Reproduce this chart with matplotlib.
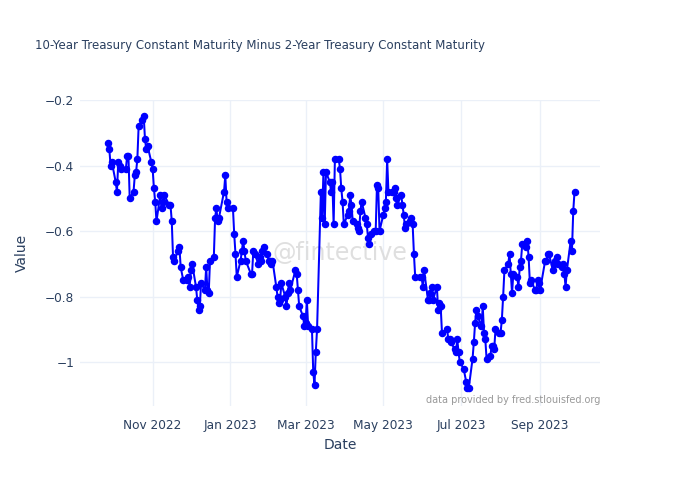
import matplotlib
matplotlib.use("Agg")
import matplotlib.pyplot as plt
import matplotlib.dates as mdates
import matplotlib.ticker as mticker
import pandas as pd

# Dados: spread 10 anos - 2 anos (dias úteis, mercado de títulos dos EUA)
inicio = "2022-09-27"
fim = "2023-09-28"
feriados = ["2022-10-10", "2022-11-11", "2022-11-24", "2022-12-26", "2023-01-02",
            "2023-01-16", "2023-02-20", "2023-05-29", "2023-06-19", "2023-07-04",
            "2023-09-04"]

valores = [
    -0.33, -0.35, -0.4, -0.39, -0.45, -0.48, -0.39, -0.4, -0.41, -0.41,
    -0.37, -0.37, -0.5, -0.48, -0.43, -0.42, -0.38, -0.28, -0.26, -0.25,
    -0.32, -0.35, -0.34, -0.39, -0.41, -0.47, -0.51, -0.57, -0.49, -0.53,
    -0.51, -0.49, -0.52, -0.52, -0.57, -0.68, -0.69, -0.66, -0.65, -0.71,
    -0.75, -0.75, -0.74, -0.77, -0.72, -0.7, -0.77, -0.81, -0.84, -0.83,
    -0.76, -0.78, -0.71, -0.78, -0.79, -0.69, -0.68, -0.56, -0.53, -0.57,
    -0.56, -0.48, -0.43, -0.51, -0.53, -0.53, -0.61, -0.67, -0.74, -0.69,
    -0.66, -0.63, -0.66, -0.69, -0.73, -0.73, -0.66, -0.67, -0.7, -0.68,
    -0.69, -0.66, -0.65, -0.67, -0.69, -0.69, -0.7, -0.69, -0.77, -0.8,
    -0.82, -0.81, -0.76, -0.8, -0.83, -0.79, -0.76, -0.78, -0.72, -0.73,
    -0.78, -0.83, -0.86, -0.89, -0.88, -0.81, -0.89, -0.9, -1.03, -1.07,
    -0.97, -0.9, -0.48, -0.56, -0.42, -0.58, -0.42, -0.45, -0.48, -0.45,
    -0.58, -0.38, -0.38, -0.41, -0.47, -0.51, -0.58, -0.55, -0.54, -0.49,
    -0.52, -0.57, -0.58, -0.59, -0.6, -0.54, -0.51, -0.56, -0.58, -0.62,
    -0.64, -0.61, -0.6, -0.6, -0.46, -0.47, -0.6, -0.55, -0.53, -0.51,
    -0.38, -0.48, -0.48, -0.48, -0.47, -0.5, -0.52, -0.49, -0.52, -0.55,
    -0.59, -0.58, -0.57, -0.56, -0.58, -0.67, -0.74, -0.74, -0.74, -0.77,
    -0.72, -0.81, -0.81, -0.79, -0.77, -0.81, -0.77, -0.84, -0.82, -0.83,
    -0.91, -0.9, -0.93, -0.93, -0.94, -0.96, -0.97, -0.93, -0.97, -1.0,
    -1.02, -1.06, -1.08, -1.08, -0.99, -0.94, -0.88, -0.84, -0.86, -0.89,
    -0.83, -0.91, -0.93, -0.99, -0.98, -0.95, -0.95, -0.96, -0.9, -0.91,
    -0.91, -0.87, -0.8, -0.72, -0.7, -0.67, -0.73, -0.79, -0.73, -0.74,
    -0.77, -0.71, -0.69, -0.64, -0.65, -0.63, -0.68, -0.76, -0.75, -0.78,
    -0.78, -0.75, -0.76, -0.78, -0.69, -0.69, -0.67, -0.67, -0.72, -0.7,
    -0.69, -0.68, -0.7, -0.71, -0.7, -0.73, -0.77, -0.72, -0.63, -0.66,
    -0.54, -0.48,
]

datas = pd.bdate_range(inicio, fim, freq="C", holidays=feriados)
serie = pd.Series(valores, index=datas[:len(valores)])

cor_texto = "#2a3f5f"
cor_grade = "#EBF0F8"

fig = plt.figure(figsize=(6.8, 4.86), dpi=100)
ax = fig.add_axes([80 / 680, 80 / 486, 520 / 680, 306 / 486])

ax.plot(serie.index, serie.values, color="blue", linewidth=1.45,
        marker="o", markersize=4.4, zorder=3)

# Eixos e formatação (estilo plotly_white)
ax.set_xlim(pd.Timestamp("2022-09-05"), pd.Timestamp("2023-10-18"))
ax.set_ylim(-1.134, -0.2)
ax.xaxis.set_major_locator(mdates.MonthLocator(bymonth=[1, 3, 5, 7, 9, 11]))
ax.xaxis.set_major_formatter(mdates.DateFormatter("%b %Y"))
ax.yaxis.set_major_locator(mticker.FixedLocator([-1, -0.8, -0.6, -0.4, -0.2]))
ax.yaxis.set_major_formatter(mticker.FuncFormatter(lambda v, p: f"{v:g}".replace("-", "\u2212")))
ax.grid(True, color=cor_grade, linewidth=1)
ax.set_axisbelow(True)
for s in ax.spines.values():
    s.set_visible(False)
ax.tick_params(length=0, labelsize=8.7, colors=cor_texto, pad=4)
ax.tick_params(axis="x", pad=9)

ax.set_xlabel("Date", fontsize=10, color=cor_texto, labelpad=5)
ax.set_ylabel("Value", fontsize=10, color=cor_texto, labelpad=12)

fig.text(35 / 680, 1 - 45 / 486,
         "10-Year Treasury Constant Maturity Minus 2-Year Treasury Constant Maturity",
         fontsize=8.5, color=cor_texto, va="center", ha="left")

# Marca d'água e fonte
ax.text(0.5, 0.5, "@fintective", transform=ax.transAxes, fontsize=17,
        color="#d8d8d8", alpha=0.8, ha="center", va="center", zorder=1)
ax.text(1.0, 0.02, "data provided by fred.stlouisfed.org", transform=ax.transAxes,
        fontsize=7, color="#999999", ha="right", va="center", zorder=4)

fig.savefig("out.png", dpi=100)
